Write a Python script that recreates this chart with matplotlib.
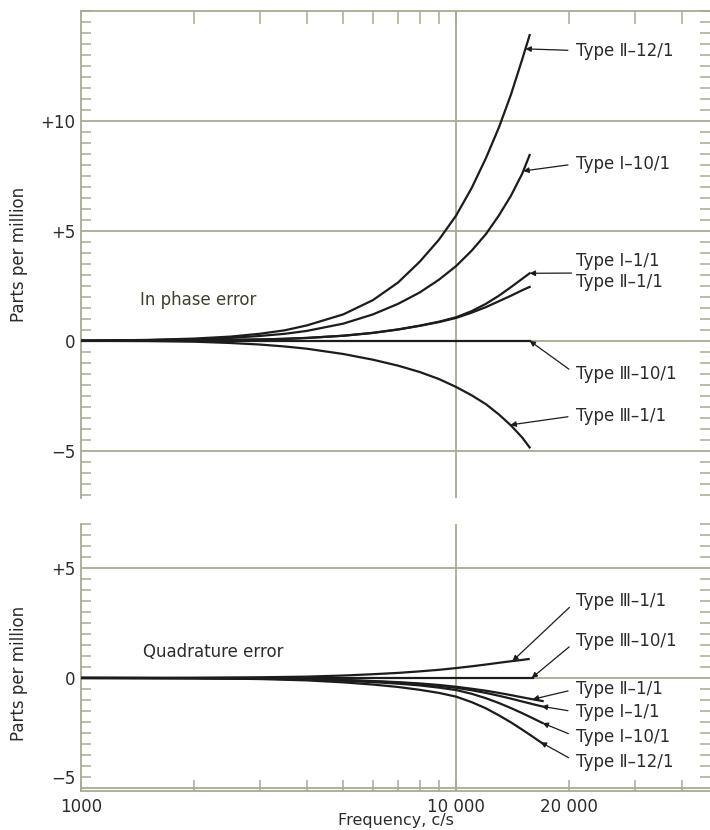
import numpy as np
import matplotlib.pyplot as plt
from matplotlib.ticker import FixedLocator, NullFormatter

plt.rcParams['font.family'] = ['DejaVu Sans']

# frequency grids (c/s)
freq_top = [1000, 1500, 2000, 2500, 3000, 3500, 4000, 5000, 6000, 7000, 8000,
            9000, 10000, 11000, 12000, 13000, 14000, 15000, 15700]
freq_quad = [1000, 2000, 3000, 4000, 5000, 6000, 7000, 8000, 9000,
             10000, 11000, 12000, 13000, 14000, 15000, 16000, 17000]
freq_quad3 = [1000, 2000, 3000, 4000, 5000, 6000, 7000, 8000, 9000,
              10000, 11000, 12000, 13000, 14000, 15000, 15600]

# in phase error, ppm
ip_II_12 = [0, 0.04, 0.1, 0.19, 0.32, 0.48, 0.7, 1.2, 1.85, 2.65, 3.6,
            4.6, 5.7, 6.95, 8.3, 9.7, 11.2, 12.8, 13.9]
ip_I_10 = [0, 0.03, 0.07, 0.13, 0.22, 0.32, 0.45, 0.78, 1.2, 1.68, 2.2,
           2.78, 3.4, 4.1, 4.85, 5.7, 6.6, 7.6, 8.45]
ip_I_1 = [0, 0.01, 0.02, 0.04, 0.06, 0.09, 0.13, 0.23, 0.36, 0.52, 0.69,
          0.87, 1.07, 1.35, 1.68, 2.05, 2.44, 2.82, 3.07]
ip_II_1 = [0, 0.01, 0.02, 0.04, 0.06, 0.09, 0.13, 0.23, 0.36, 0.51, 0.68,
           0.85, 1.04, 1.28, 1.53, 1.8, 2.05, 2.3, 2.45]
ip_III_10 = [0] * 19
ip_III_1 = [0, -0.01, -0.04, -0.1, -0.17, -0.26, -0.36, -0.6, -0.86, -1.13,
            -1.42, -1.74, -2.1, -2.48, -2.88, -3.35, -3.85, -4.4, -4.85]

# quadrature error, ppm
q_III_1 = [0, 0.01, 0.03, 0.06, 0.11, 0.17, 0.23, 0.3, 0.37,
           0.45, 0.53, 0.61, 0.69, 0.76, 0.82, 0.86]
q_III_10 = [0] * 17
q_II_1 = [0, -0.01, -0.02, -0.05, -0.09, -0.14, -0.19, -0.25, -0.32,
          -0.4, -0.49, -0.58, -0.68, -0.78, -0.88, -0.97, -1.05]
q_I_1 = [0, -0.01, -0.03, -0.06, -0.1, -0.15, -0.21, -0.28, -0.36,
         -0.45, -0.56, -0.68, -0.81, -0.94, -1.07, -1.19, -1.3]
q_I_10 = [0, -0.01, -0.03, -0.07, -0.13, -0.19, -0.26, -0.34, -0.44,
          -0.55, -0.72, -0.92, -1.14, -1.37, -1.6, -1.83, -2.05]
q_II_12 = [0, -0.01, -0.05, -0.11, -0.2, -0.3, -0.41, -0.54, -0.68,
           -0.85, -1.1, -1.38, -1.7, -2.02, -2.35, -2.67, -2.98]

LINE = '#1c1c1c'
GRID = '#a9a993'
TXT = '#2b2b2b'

fig = plt.figure(figsize=(7.1, 8.3), dpi=100)
ax1 = fig.add_axes([81/710, 332/830, 629/710, 487/830])
ax2 = fig.add_axes([81/710, 39/830, 629/710, 267/830])


def on_curve(f, freq, vals):
    return np.interp(np.log10(f), np.log10(freq), vals)


def setup(ax, ylim, yticks, ylabels, top):
    ax.set_xscale('log')
    ax.set_xlim(1000, 47500)
    ax.set_ylim(*ylim)
    for s in ax.spines.values():
        s.set_color(GRID)
        s.set_linewidth(1.3)
    ax.spines['right'].set_visible(False)
    if top:
        ax.spines['bottom'].set_visible(False)
    else:
        ax.spines['top'].set_visible(False)
    for y in yticks:
        ax.axhline(y, color=GRID, lw=1.3, zorder=1)
    ax.axvline(10000, color=GRID, lw=1.3, zorder=1)
    ax.yaxis.set_major_locator(FixedLocator(yticks))
    ax.set_yticklabels(ylabels)
    minors = [v for v in np.arange(-7, 15.01, 0.5) if v not in yticks]
    ax.yaxis.set_minor_locator(FixedLocator(minors))
    ax.yaxis.set_minor_formatter(NullFormatter())
    ax.tick_params(axis='y', which='major', length=0, pad=4,
                   labelsize=12, labelcolor=TXT)
    ax.tick_params(axis='y', which='minor', direction='in', length=7,
                   width=1.1, color=GRID, left=True, right=True)
    xmin = [2000, 3000, 4000, 5000, 6000, 7000, 8000, 9000, 20000, 30000, 40000]
    if top:
        ax.xaxis.set_major_locator(FixedLocator([10000]))
        ax.xaxis.set_major_formatter(NullFormatter())
        ax.xaxis.set_minor_locator(FixedLocator(xmin))
        ax.xaxis.set_minor_formatter(NullFormatter())
        ax.tick_params(axis='x', which='both', top=True, bottom=False,
                       direction='in', length=9, width=1.1, color=GRID)
    else:
        ax.xaxis.set_major_locator(FixedLocator([1000, 10000, 20000]))
        ax.set_xticklabels(['1000', '10 000', '20 000'])
        ax.xaxis.set_minor_locator(FixedLocator([f for f in xmin if f != 20000]))
        ax.xaxis.set_minor_formatter(NullFormatter())
        ax.tick_params(axis='x', which='both', direction='in', length=8,
                       width=1.1, color=GRID, labelsize=12, labelcolor=TXT, pad=5)
    ax.set_ylabel('Parts per million', fontsize=12, color=TXT)


def leader(ax, text, tip, start):
    ax.annotate(text, xy=tip, xytext=start, textcoords='data',
                ha='left', va='center', fontsize=12, color=TXT,
                arrowprops=dict(arrowstyle='-|>', color=LINE, lw=0.9,
                                mutation_scale=8, shrinkA=4, shrinkB=0,
                                relpos=(0, 0.5)))


# ---- in phase panel
setup(ax1, (-7.15, 15.0), [-5, 0, 5, 10], ['−5', '0', '+5', '+10'], True)
for vals in [ip_II_12, ip_I_10, ip_I_1, ip_II_1, ip_III_10, ip_III_1]:
    ax1.plot(freq_top, vals, color=LINE, lw=1.6, zorder=3)

tx = 20900
leader(ax1, 'Type Ⅱ–12/1', (15300, on_curve(15300, freq_top, ip_II_12)), (tx, 13.2))
leader(ax1, 'Type Ⅰ–10/1', (15100, on_curve(15100, freq_top, ip_I_10)), (tx, 8.05))
ax1.text(tx, 3.63, 'Type Ⅰ–1/1', ha='left', va='center', fontsize=12, color=TXT)
ax1.text(tx, 2.67, 'Type Ⅱ–1/1', ha='left', va='center', fontsize=12, color=TXT)
ax1.annotate('', xy=(freq_top[-1], ip_I_1[-1]), xytext=(20300, 3.08),
             arrowprops=dict(arrowstyle='-|>', color=LINE, lw=0.9,
                             mutation_scale=8, shrinkA=0, shrinkB=0))
leader(ax1, 'Type Ⅲ–10/1', (15700, 0), (tx, -1.53))
leader(ax1, 'Type Ⅲ–1/1', (13950, on_curve(13950, freq_top, ip_III_1)), (tx, -3.4))
ax1.text(1440, 1.85, 'In phase error', ha='left', va='center',
         fontsize=12, color='#3f3f2a')
ax1.yaxis.set_label_coords(-0.085, 0.5)

# ---- quadrature panel
setup(ax2, (-5.14, 7.0), [-5, 0, 5], ['−5', '0', '+5'], False)
ax2.get_yticklabels()[0].set_va('bottom')
ax2.plot(freq_quad3, q_III_1, color=LINE, lw=1.6, zorder=3)
ax2.plot(freq_quad[:-1], q_III_10[:-1], color=LINE, lw=1.6, zorder=3)
for vals in [q_II_1, q_I_1, q_I_10, q_II_12]:
    ax2.plot(freq_quad, vals, color=LINE, lw=1.6, zorder=3)

leader(ax2, 'Type Ⅲ–1/1', (14130, on_curve(14130, freq_quad3, q_III_1)), (tx, 3.5))
leader(ax2, 'Type Ⅲ–10/1', (15900, 0), (tx, 1.68))
leader(ax2, 'Type Ⅱ–1/1', (16000, on_curve(16000, freq_quad, q_II_1)), (tx, -0.5))
leader(ax2, 'Type Ⅰ–1/1', (16900, on_curve(16900, freq_quad, q_I_1)), (tx, -1.55))
leader(ax2, 'Type Ⅰ–10/1', (17000, on_curve(17000, freq_quad, q_I_10)), (tx, -2.68))
leader(ax2, 'Type Ⅱ–12/1', (16800, on_curve(16800, freq_quad, q_II_12)), (tx, -3.82))
ax2.text(1460, 1.18, 'Quadrature error', ha='left', va='center',
         fontsize=12, color=TXT)
ax2.yaxis.set_label_coords(-0.085, 0.44)
ax2.set_xlabel('Frequency, c/s', fontsize=11.5, color=TXT, labelpad=-2)

fig.savefig('out.png', dpi=100)
